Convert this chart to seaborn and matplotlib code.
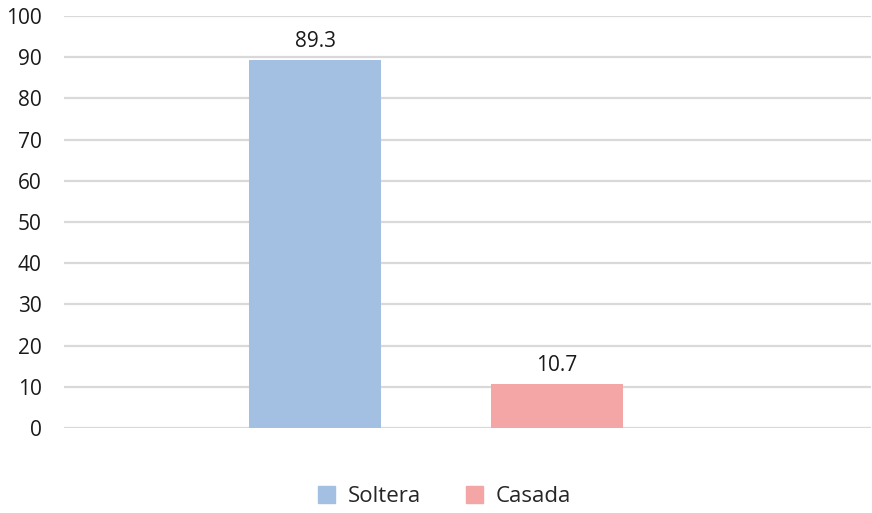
import pandas as pd
import matplotlib
matplotlib.use("Agg")
import matplotlib.pyplot as plt
import seaborn as sns

# data
estado = ["Soltera", "Casada"]
porcentaje = [89.3, 10.7]
colores = ["#a3bfe1", "#f4a6a6"]
y_ticks = [0, 10, 20, 30, 40, 50, 60, 70, 80, 90, 100]

df = pd.DataFrame({"grupo": ["" for _ in estado], "estado": estado, "porcentaje": porcentaje})

sns.set_style("white")
plt.rcParams["font.family"] = ["Open Sans", "DejaVu Sans"]

fig = plt.figure(figsize=(8.72, 5.13), dpi=100)
ax = fig.add_axes([64 / 872, 1 - 428 / 513, (871 - 64) / 872, (428 - 16) / 513])

sns.barplot(data=df, x="grupo", y="porcentaje", hue="estado", palette=colores,
            width=0.8, gap=0.455, saturation=1, ax=ax, legend=False, zorder=3,
            linewidth=0)

for container in ax.containers:
    ax.bar_label(container, fmt="%.1f", padding=6, fontsize=15, color="#1a1a1a")

ax.set_ylim(0, 100)
ax.set_yticks(y_ticks)
ax.set_xlim(-0.615, 0.719)
ax.set_xticks([])
ax.set_xlabel("")
ax.set_ylabel("")
ax.yaxis.grid(True, color="#d9d9d9", linewidth=1.6, zorder=0)
ax.set_axisbelow(True)
ax.tick_params(axis="y", length=0, pad=16, labelsize=15, labelcolor="#1a1a1a")
for s in ax.spines.values():
    s.set_visible(False)

handles = [plt.Rectangle((0, 0), 1, 1, color=c) for c in colores]
fig.legend(handles, estado, loc="lower center", bbox_to_anchor=(0.51, -0.028), ncol=2,
           frameon=False, fontsize=16, handlelength=0.75, handleheight=0.75,
           columnspacing=2.0, handletextpad=0.6)

fig.savefig("out.png", dpi=100)
